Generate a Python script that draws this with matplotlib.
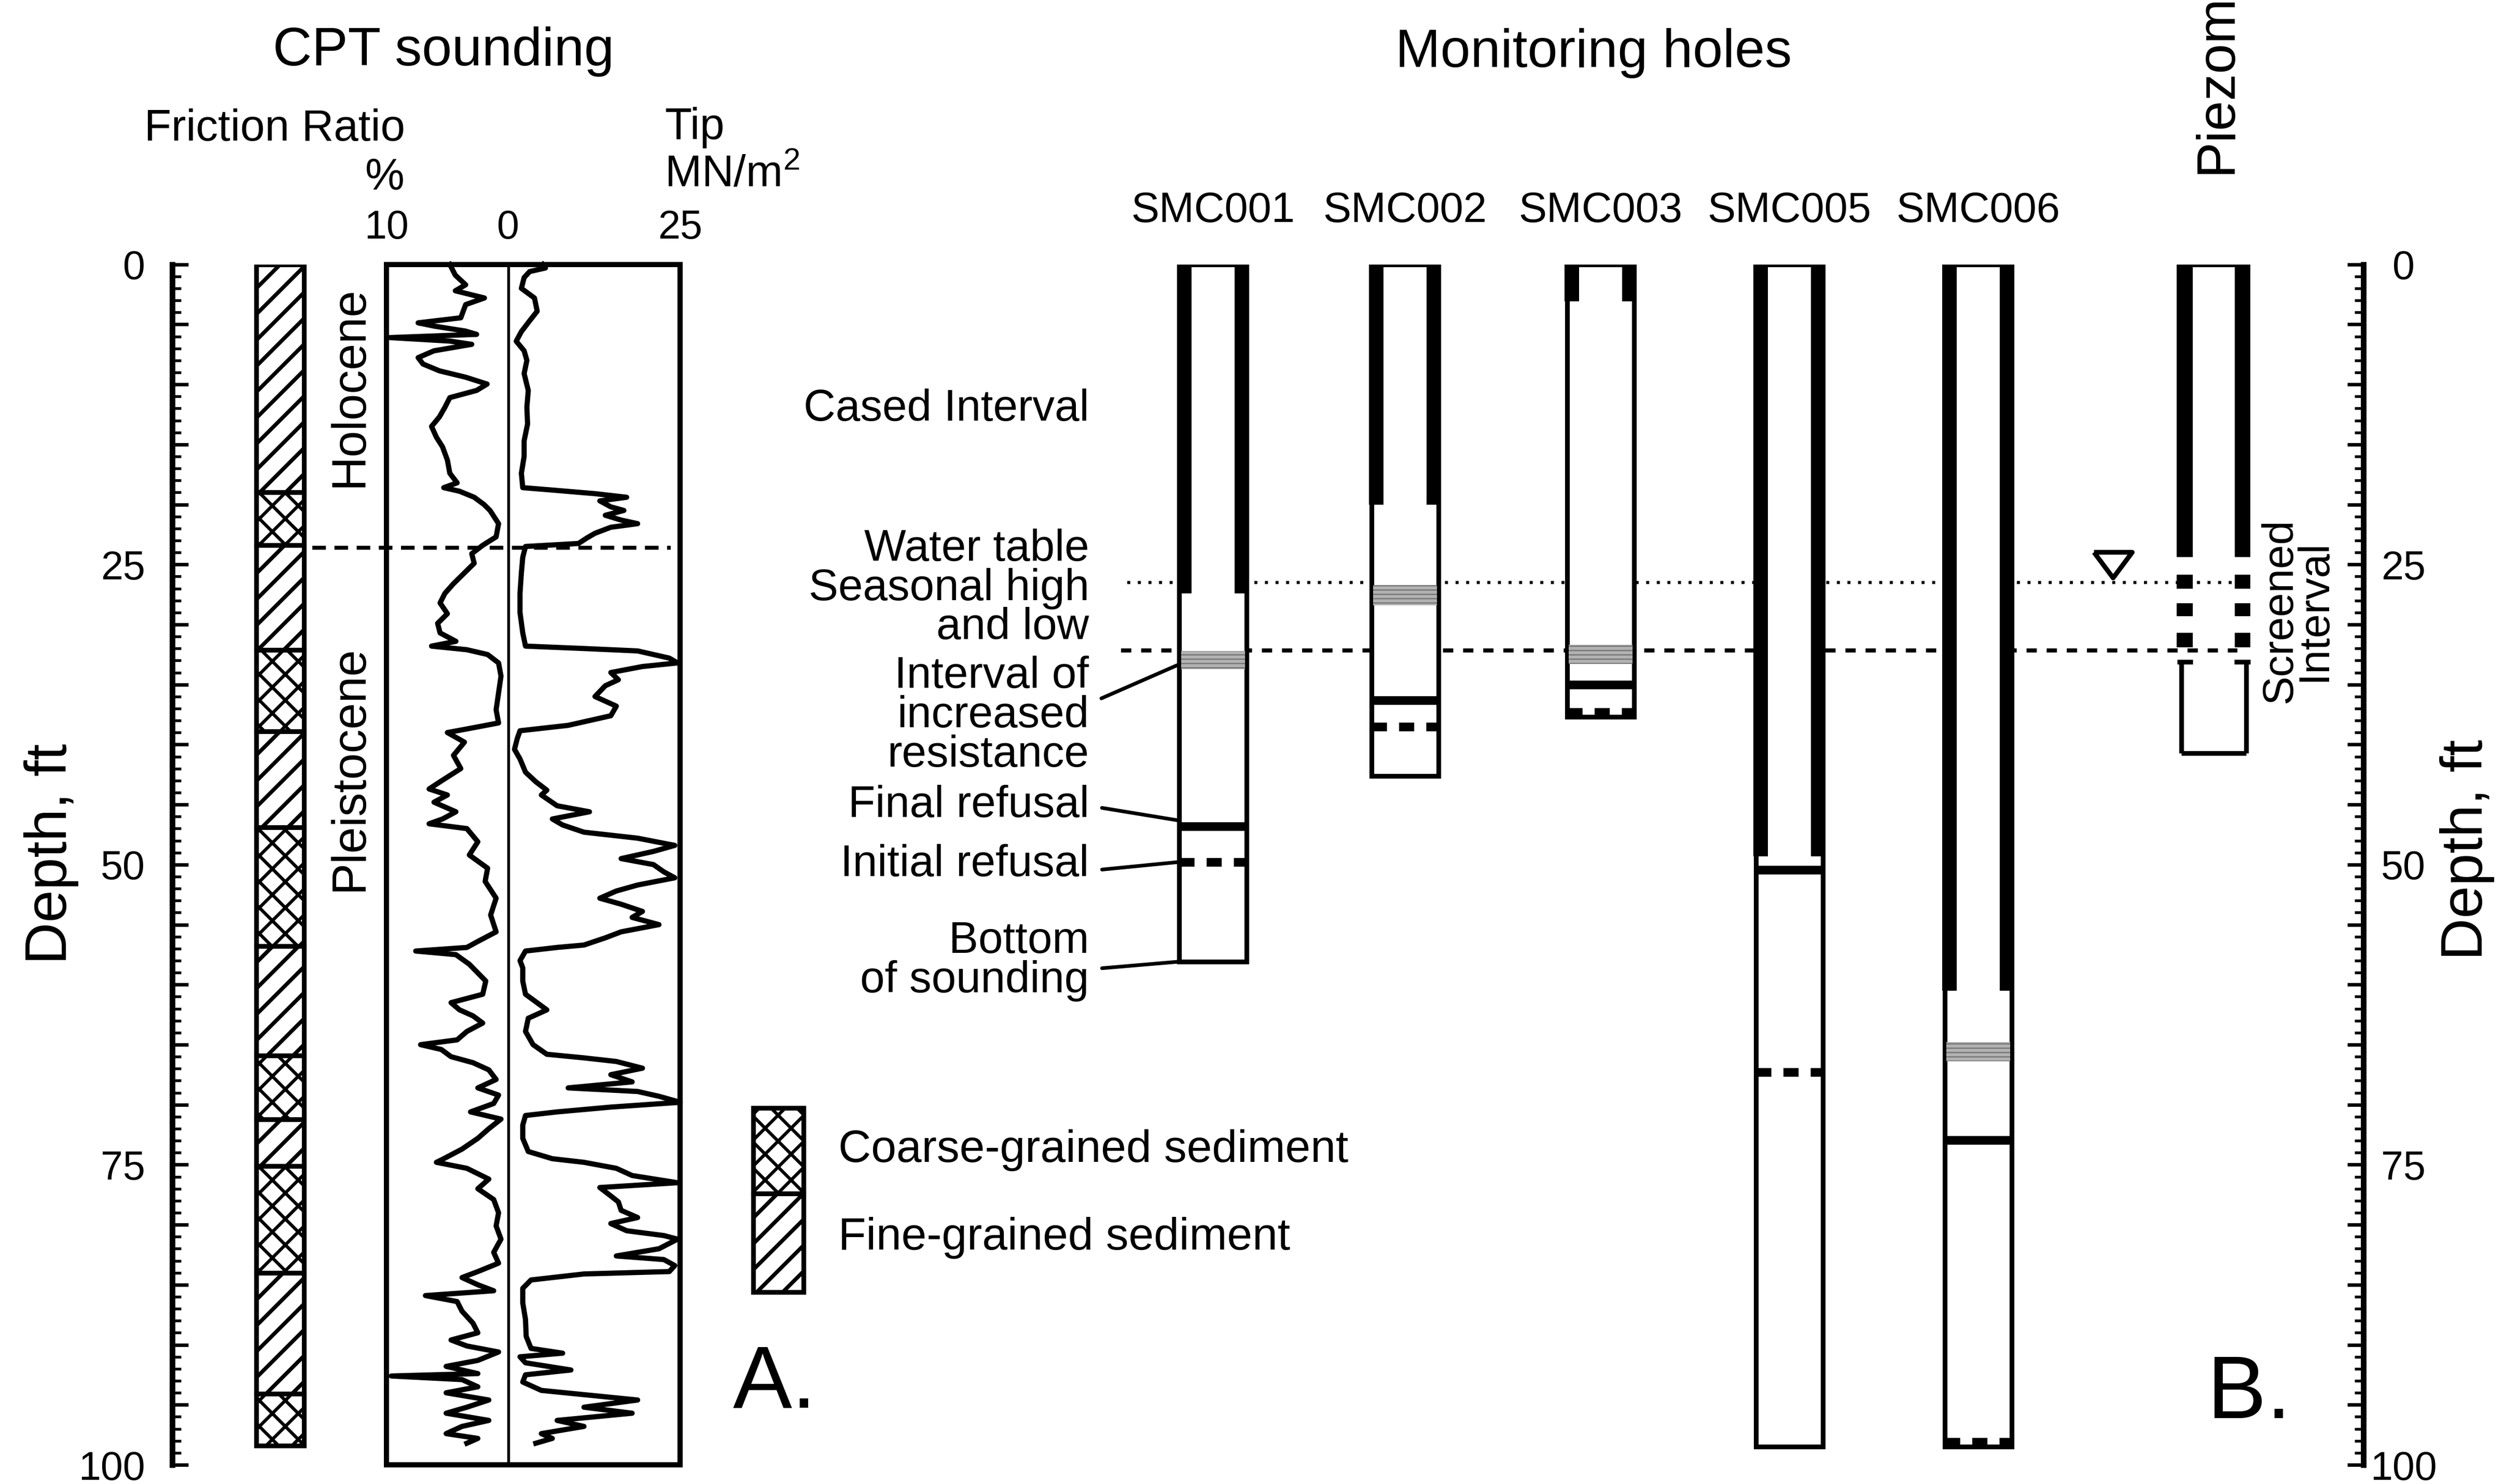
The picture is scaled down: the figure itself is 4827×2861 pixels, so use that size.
import numpy as np
import matplotlib
matplotlib.use('Agg')
import matplotlib.pyplot as plt
from matplotlib.ticker import MultipleLocator, FuncFormatter

plt.rcParams['font.family'] = ['Liberation Sans', 'DejaVu Sans']
plt.rcParams['mathtext.fontset'] = 'custom'
plt.rcParams['mathtext.rm'] = 'Liberation Sans'
plt.rcParams['hatch.linewidth'] = 1.8

# ---------------- data (depth in ft) ----------------
LITH_TOP = [0.0, 19.0, 23.4, 32.1, 38.9, 46.9, 56.8, 65.9, 71.2, 75.1, 84.0, 94.1]
LITH_BASE = [19.0, 23.4, 32.1, 38.9, 46.9, 56.8, 65.9, 71.2, 75.1, 84.0, 94.1, 98.4]
LITH_TYPE = ['fine', 'coarse', 'fine', 'coarse', 'fine', 'coarse',
             'fine', 'coarse', 'fine', 'coarse', 'fine', 'coarse']
HOLOCENE_BASE = 23.6

# friction ratio, %
FR_DEPTH = [0.0, 0.9, 1.7, 2.2, 2.8, 3.35, 4.45, 4.87, 5.14, 5.56, 5.83, 6.1, 6.39, 6.66,
            7.2, 7.77, 8.3, 8.87, 9.4, 9.97, 10.5, 11.1, 11.9, 12.7, 13.5, 14.4, 15.2, 16.3,
            17.4, 18.2, 18.6, 18.9, 19.4, 20.0, 20.5, 21.6, 22.7, 23.4, 24.1, 24.9, 25.7,
            26.6, 27.4, 28.2, 29.1, 29.9, 30.7, 31.4, 31.8, 32.1, 32.5, 33.2, 34.3, 35.7,
            37.1, 38.2, 38.7, 39.0, 39.8, 40.9, 42.0, 43.1, 43.7, 44.2, 44.8, 45.6, 46.2,
            46.6, 47.0, 48.1, 49.2, 50.3, 51.4, 52.8, 54.2, 55.6, 56.4, 56.9, 57.2, 57.5,
            58.3, 59.7, 60.8, 61.5, 62.1, 62.6, 63.2, 63.9, 64.6, 65.0, 65.4, 66.0, 66.5,
            67.1, 67.9, 68.6, 69.2, 69.9, 70.6, 71.2, 72.0, 72.8, 73.7, 74.5, 74.8, 75.3,
            76.2, 77.0, 77.9, 79.0, 80.1, 81.2, 82.3, 83.2, 83.9, 84.4, 85.0, 85.5, 85.9,
            86.4, 87.2, 88.2, 89.0, 89.6, 90.1, 90.6, 91.3, 91.8, 92.4, 92.6, 92.9, 93.5,
            94.0, 94.6, 95.2, 95.7, 96.3, 96.8, 97.4, 97.8, 98.2]
FR_VALUE = [4.8, 4.35, 3.5, 4.35, 1.96, 3.5, 3.9, 7.4, 6.1, 3.5, 2.6, 9.7, 4.8, 3.0,
            6.1, 7.4, 7.0, 5.65, 3.5, 1.74, 2.6, 4.8, 5.2, 5.65, 6.3, 5.9, 5.4, 5.0,
            4.8, 4.2, 5.3, 4.0, 2.8, 2.0, 1.5, 0.8, 1.0, 2.1, 3.0, 2.8, 3.6,
            4.5, 5.2, 5.6, 5.0, 5.8, 5.6, 4.3, 6.3, 3.4, 1.7, 0.8, 0.6, 0.8,
            1.0, 0.8, 3.4, 5.0, 3.6, 4.5, 3.9, 5.6, 6.5, 5.0, 6.1, 4.3, 5.4,
            6.5, 3.4, 2.5, 3.2, 1.7, 1.9, 1.0, 1.45, 1.0, 2.5, 3.4, 7.6, 4.3,
            3.2, 1.85, 2.1, 4.7, 4.0, 2.9, 2.1, 3.4, 4.2, 7.2, 5.5, 4.7, 2.9,
            1.6, 1.0, 2.5, 0.8, 1.2, 3.1, 0.6, 1.6, 2.5, 3.8, 5.3, 5.9, 3.4,
            1.6, 2.5, 1.2, 0.8, 1.0, 0.6, 1.2, 0.8, 2.5, 3.8, 2.5, 1.2, 6.8,
            4.2, 3.8, 2.9, 2.5, 4.7, 3.4, 0.8, 2.5, 5.1, 2.5, 9.6, 3.8, 2.5,
            5.1, 1.6, 3.4, 5.1, 1.6, 3.8, 5.1, 2.5, 3.4]

# tip resistance, MN/m2
TIP_DEPTH = [0.0, 0.3, 0.6, 1.1, 2.0, 2.8, 3.9, 4.7, 5.6, 6.4, 7.2, 8.0, 9.1, 10.5, 11.9,
             13.3, 14.7, 16.0, 17.4, 18.6, 18.8, 19.1, 19.4, 19.7, 20.2, 20.5, 20.9, 21.3,
             21.6, 21.9, 22.4, 22.8, 23.25, 23.5, 24.4, 25.7, 27.4, 29.0, 30.7, 31.8, 32.0,
             32.2, 32.8, 33.2, 33.5, 34.0, 34.6, 35.1, 36.0, 36.8, 37.6, 38.4, 38.85, 39.5,
             40.4, 41.2, 42.3, 43.1, 43.8, 44.2, 45.1, 45.6, 46.2, 46.7, 47.3, 47.8, 48.4,
             48.9, 49.5, 50.0, 50.6, 51.1, 51.7, 52.2, 52.8, 53.3, 53.9, 54.4, 55.0, 55.6,
             56.1, 56.7, 56.9, 57.2, 58.0, 58.6, 59.7, 60.8, 62.1, 62.8, 63.9, 65.0, 65.8,
             66.1, 66.4, 66.96, 67.5, 68.1, 68.6, 68.9, 69.3, 69.8, 70.2, 70.6, 70.9, 71.7,
             72.8, 73.9, 74.5, 74.8, 75.3, 75.9, 76.5, 76.9, 77.6, 78.1, 78.8, 79.4, 79.9,
             80.5, 80.9, 81.2, 82.0, 82.6, 82.9, 83.4, 83.9, 84.1, 84.6, 85.3, 86.5, 87.9,
             89.3, 90.3, 90.7, 91.0, 91.5, 92.1, 92.5, 93.1, 93.8, 94.6, 95.2, 95.7, 96.3,
             96.8, 97.4, 97.8, 98.2]
TIP_VALUE = [5.0, 5.4, 3.1, 2.3, 1.9, 3.8, 4.2, 3.1, 1.9, 1.15, 2.3, 2.7, 2.3, 2.9, 2.7,
             2.8, 2.3, 2.3, 1.9, 2.1, 6.4, 12.6, 17.2, 13.3, 14.9, 16.8, 14.1, 16.4,
             18.8, 14.9, 12.6, 11.4, 10.2, 2.5, 2.1, 1.9, 1.7, 1.7, 2.1, 2.5, 11.0,
             18.8, 23.4, 24.6, 19.5, 14.9, 16.0, 14.1, 12.6, 15.7, 14.9, 8.7, 1.7, 1.3,
             0.9, 1.7, 2.5, 4.0, 5.6, 4.8, 7.1, 11.8, 6.4, 7.9, 11.0, 18.8, 24.2,
             21.1, 16.4, 21.1, 22.6, 24.2, 18.8, 15.7, 13.3, 16.4, 19.5, 18.0, 21.9, 16.4,
             14.1, 11.0, 7.1, 2.5, 1.7, 2.1, 2.1, 2.5, 5.6, 2.9, 2.5, 3.6, 5.6,
             11.0, 15.7, 19.5, 14.9, 18.0, 8.7, 18.8, 21.9, 25.0, 14.9, 7.1, 2.5, 2.1,
             2.1, 2.9, 6.4, 11.0, 15.7, 18.0, 24.6, 13.3, 14.9, 16.0, 16.4, 18.8, 14.9,
             17.2, 22.6, 24.6, 21.9, 15.7, 22.6, 24.2, 23.4, 11.0, 3.3, 2.1, 2.1, 2.5,
             2.6, 3.3, 7.9, 1.7, 2.5, 9.1, 2.5, 2.1, 4.8, 18.8, 11.0, 18.0, 7.1,
             11.0, 4.8, 6.4, 4.0]

HOLES = ['SMC001', 'SMC002', 'SMC003', 'SMC005', 'SMC006']
HOLE_BOTTOM = [58.1, 42.6, 37.7, 98.5, 98.5]
CASING_BOTTOM = [27.4, 20.0, 3.1, 49.3, 60.5]
FINAL_REFUSAL = [46.8, 36.3, 35.0, 50.45, 72.95]
INITIAL_REFUSAL = [49.8, 38.5, 37.3, 67.3, 98.1]
RESIST_TOP = [32.2, 26.7, 31.7, np.nan, 64.8]
RESIST_BASE = [33.7, 28.4, 33.3, np.nan, 66.4]

PIEZO_CASING_BOTTOM = 24.4
SCREEN_TOP = [25.85, 28.25, 30.7]
SCREEN_BASE = [27.0, 29.3, 31.9]
PIEZO_SUMP_TOP = 33.1
PIEZO_BOTTOM = 40.7

WATER_HIGH = 26.5
WATER_LOW = 32.15

# ---------------- layout (reference pixel grid 1568 x 929) ----------------
W, H = 1568, 929
TOP_Y, BOT_Y = 165.5, 917.0
HOLE_X = np.array([759.5, 879.8, 1002.2, 1120.5, 1238.8])
HOLE_W = 42.0
WALL = 9.0
PZ_X = 1386.2
TXT_R = 682


def fx(x):
    return x / W


def fy(y):
    return 1 - y / H


def set_hlw(patches, lw):
    for p in patches:
        if hasattr(p, 'set_hatch_linewidth'):
            p.set_hatch_linewidth(lw)


fig = plt.figure(figsize=(4827 / 300, 2861 / 300), dpi=300)
fig.patch.set_facecolor('white')

ax_px = fig.add_axes([0, 0, 1, 1])
ax_px.set_xlim(0, W)
ax_px.set_ylim(H, 0)
ax_px.axis('off')

depth_h = (BOT_Y - TOP_Y) / H
ax = fig.add_axes([0, fy(BOT_Y), 1, depth_h])
ax.set_xlim(0, W)
ax.set_ylim(100, 0)
ax.axis('off')

# ---- depth scales ----
fmt = FuncFormatter(lambda v, p: f'{v:.0f}' if abs(v % 25) < 1e-6 else '')
ax_l = fig.add_axes([fx(108), fy(BOT_Y), 1e-4, depth_h])
ax_r = fig.add_axes([fx(1480) - 1e-4, fy(BOT_Y), 1e-4, depth_h])
for a, side in [(ax_l, 'left'), (ax_r, 'right')]:
    a.set_ylim(100, 0)
    a.set_xticks([])
    a.patch.set_visible(False)
    for s in ['top', 'bottom', 'left', 'right']:
        a.spines[s].set_visible(s == side)
    a.spines[side].set_linewidth(2.6)
    a.spines[side].set_capstyle('projecting')
    a.yaxis.set_major_locator(MultipleLocator(5))
    a.yaxis.set_minor_locator(MultipleLocator(1))
    a.yaxis.set_major_formatter(fmt)
    a.tick_params(axis='y', which='major', direction='in', length=7.5, width=1.6,
                  labelsize=18.5)
    a.tick_params(axis='y', which='minor', direction='in', length=4, width=1.3)
ax_l.tick_params(axis='y', which='major', pad=12.6)
ax_r.yaxis.tick_right()
ax_r.tick_params(axis='y', which='both', direction='in')
ax_r.tick_params(axis='y', which='major', pad=18.5)
plt.setp(ax_r.get_yticklabels(), ha='center')

ax_px.text(41.6, 534.5, 'Depth, ft', rotation=90, rotation_mode='anchor',
           ha='center', va='baseline', fontsize=27)
ax_px.text(1554.5, 532, 'Depth, ft', rotation=90, rotation_mode='anchor',
           ha='center', va='baseline', fontsize=27)

# ---- lithology column ----
for top, base, kind in zip(LITH_TOP, LITH_BASE, LITH_TYPE):
    bars = ax.bar(175.5, base - top, bottom=top, width=30, color='white',
                  edgecolor='black', lw=2.2, hatch='xx' if kind == 'coarse' else '//',
                  zorder=2)
    set_hlw(bars, 1.5 if kind == 'coarse' else 1.8)

# ---- CPT panel ----
ax_fr = fig.add_axes([fx(242), fy(BOT_Y), fx(318.3) - fx(242), depth_h])
ax_tip = fig.add_axes([fx(318.3), fy(BOT_Y), fx(426) - fx(318.3), depth_h])
ax_fr.set_xlim(10, 0)
ax_tip.set_xlim(0, 25)
for a in (ax_fr, ax_tip):
    a.set_ylim(100, 0)
    a.set_yticks([])
    a.patch.set_visible(False)
    a.xaxis.tick_top()
    a.tick_params(axis='x', length=0, labelsize=18.5, pad=8)
    for s in a.spines.values():
        s.set_linewidth(2.4)
        s.set_capstyle('projecting')
ax_fr.set_xticks([10, 0])
ax_tip.set_xticks([25])
ax_fr.spines['right'].set_linewidth(1.3)
ax_tip.spines['left'].set_visible(False)
ax_fr.plot(FR_VALUE, FR_DEPTH, color='black', lw=2.4, clip_on=False)
ax_tip.plot(TIP_VALUE, TIP_DEPTH, color='black', lw=2.4, clip_on=False)

ax.hlines(HOLOCENE_BASE, 195.6, 420, colors='black', lw=1.8,
          linestyles=(0, (3.5, 2.2)), zorder=3)

ax_px.text(277.6, 41, 'CPT sounding', ha='center', va='baseline', fontsize=25)
ax_px.text(172, 88, 'Friction Ratio', ha='center', va='baseline', fontsize=20.5)
ax_px.text(241, 119, '%', ha='center', va='baseline', fontsize=20.5)
ax_px.text(416, 87, 'Tip', ha='left', va='baseline', fontsize=20.5)
ax_px.text(416, 117, 'MN/m$^\\mathregular{2}$', ha='left', va='baseline', fontsize=20.5)
ax_px.text(227, 242, 'Holocene', rotation=90, rotation_mode='anchor',
           ha='center', va='baseline', fontsize=22)
ax_px.text(227, 481, 'Pleistocene', rotation=90, rotation_mode='anchor',
           ha='center', va='baseline', fontsize=22)

# legend swatches
b = ax_px.bar(487.3, 53.3, bottom=693.7, width=31.5, color='white', edgecolor='black',
              lw=2.2, hatch='xx')
set_hlw(b, 1.5)
b = ax_px.bar(487.3, 61.8, bottom=747.0, width=31.5, color='white', edgecolor='black',
              lw=2.2, hatch='//')
set_hlw(b, 1.8)
ax_px.text(525, 720, 'Coarse-grained sediment', ha='left', va='center', fontsize=21)
ax_px.text(525, 775, 'Fine-grained sediment', ha='left', va='center', fontsize=21)
ax_px.text(485, 881, 'A.', ha='center', va='baseline', fontsize=41)
ax_px.text(1408.5, 887.6, 'B.', ha='center', va='baseline', fontsize=41)

# ---- monitoring holes ----
ax_px.text(998, 42, 'Monitoring holes', ha='center', va='baseline', fontsize=25)
for xc, name in zip(HOLE_X, HOLES):
    ax_px.text(xc, 139, name, ha='center', va='baseline', fontsize=19.5)

ax.hlines(WATER_HIGH, 706, 1398, colors='black', lw=1.4, linestyles=(0, (1, 2.5)),
          zorder=1)
ax.hlines(WATER_LOW, 702, 1401, colors='black', lw=1.9, linestyles=(0, (2.5, 2.4)),
          zorder=1)

ax.bar(HOLE_X, HOLE_BOTTOM, bottom=0, width=HOLE_W, color='white', edgecolor='black',
       lw=2.2, zorder=2)
has_res = ~np.isnan(RESIST_TOP)
rt = np.array(RESIST_TOP)[has_res]
rb = np.array(RESIST_BASE)[has_res]
shade = ax.bar(HOLE_X[has_res], rb - rt, bottom=rt, width=HOLE_W - 2, color='#b2b2b2',
               edgecolor='#777777', lw=0, hatch='------', zorder=2.5)
set_hlw(shade, 0.6)
off = HOLE_W / 2 + 1.5 - WALL / 2
ax.bar(HOLE_X - off, CASING_BOTTOM, bottom=0, width=WALL, color='black', lw=0, zorder=3)
ax.bar(HOLE_X + off, CASING_BOTTOM, bottom=0, width=WALL, color='black', lw=0, zorder=3)
ax.hlines(FINAL_REFUSAL, HOLE_X - HOLE_W / 2, HOLE_X + HOLE_W / 2, colors='black',
          lw=4, zorder=4)
ax.hlines(INITIAL_REFUSAL, HOLE_X - HOLE_W / 2, HOLE_X + HOLE_W / 2, colors='black',
          lw=4, linestyles=(0, (1.75, 1.4)), zorder=4)

# piezometer
ax.bar([PZ_X - 18.1, PZ_X + 18.1], PIEZO_CASING_BOTTOM, bottom=0, width=10,
       color='black', lw=0, zorder=3)
ax.hlines(0, PZ_X - 22.7, PZ_X + 22.7, colors='black', lw=2.2, zorder=3)
for t, bt in zip(SCREEN_TOP, SCREEN_BASE):
    ax.bar([PZ_X - 18.1, PZ_X + 18.1], bt - t, bottom=t, width=10, color='black',
           lw=0, zorder=3)
ax.vlines([PZ_X - 20.2, PZ_X + 20.2], PIEZO_SUMP_TOP, PIEZO_BOTTOM, colors='black',
          lw=2.2, zorder=3)
ax.hlines(PIEZO_BOTTOM, PZ_X - 20.2, PZ_X + 20.2, colors='black', lw=2.2, zorder=3)
ax.hlines([PIEZO_SUMP_TOP, PIEZO_SUMP_TOP], [PZ_X - 23, PZ_X + 13], [PZ_X - 13, PZ_X + 23],
          colors='black', lw=2.2, zorder=3)
tri = [(-1, 0.67), (1, 0.67), (0, -0.67), (-1, 0.67)]
ax.plot([1323], [WATER_HIGH - 1.45], marker=tri, ms=17.7, mfc='white', mec='black',
        mew=2.2, ls='none', clip_on=False, zorder=4)
ax_px.text(1397, 108.8, 'Piezometer', rotation=90, rotation_mode='anchor',
           ha='left', va='baseline', fontsize=25)
ax_px.text(1438.4, 382.4, 'Screened\nInterval', rotation=90, rotation_mode='anchor',
           ha='center', va='center', multialignment='center', linespacing=0.8,
           fontsize=20)

# ---- annotations for SMC001 ----
x_wall = HOLE_X[0] - HOLE_W / 2 - 1.5
ax.text(TXT_R, 12.05, 'Cased Interval', ha='right', va='center', fontsize=20.5)
ax.text(TXT_R, 27.0, 'Water table\nSeasonal high\nand low', ha='right', va='center',
        multialignment='right', linespacing=0.93, fontsize=20.5)
arrow = dict(arrowstyle='-', lw=1.7, color='black', shrinkA=4, shrinkB=0)
ax.annotate('Interval of\nincreased\nresistance', xy=(x_wall, RESIST_BASE[0] - 0.3),
            xytext=(TXT_R, 37.6), ha='right', va='center', multialignment='right',
            linespacing=0.93, fontsize=20.5, arrowprops=dict(arrow, relpos=(1, 0.6)))
ax.annotate('Final refusal', xy=(x_wall, FINAL_REFUSAL[0] - 0.5), xytext=(TXT_R, 45.1),
            ha='right', va='center', fontsize=20.5, arrowprops=dict(arrow, relpos=(1, 0.5)))
ax.annotate('Initial refusal', xy=(x_wall, INITIAL_REFUSAL[0]), xytext=(TXT_R, 50.0),
            ha='right', va='center', fontsize=20.5, arrowprops=dict(arrow, relpos=(1, 0.35)))
ax.annotate('Bottom\nof sounding', xy=(x_wall, HOLE_BOTTOM[0]), xytext=(TXT_R, 58.05),
            ha='right', va='center', multialignment='right', linespacing=0.93,
            fontsize=20.5, arrowprops=dict(arrow, relpos=(1, 0.4)))

fig.savefig('out.png', dpi=300, facecolor='white')
